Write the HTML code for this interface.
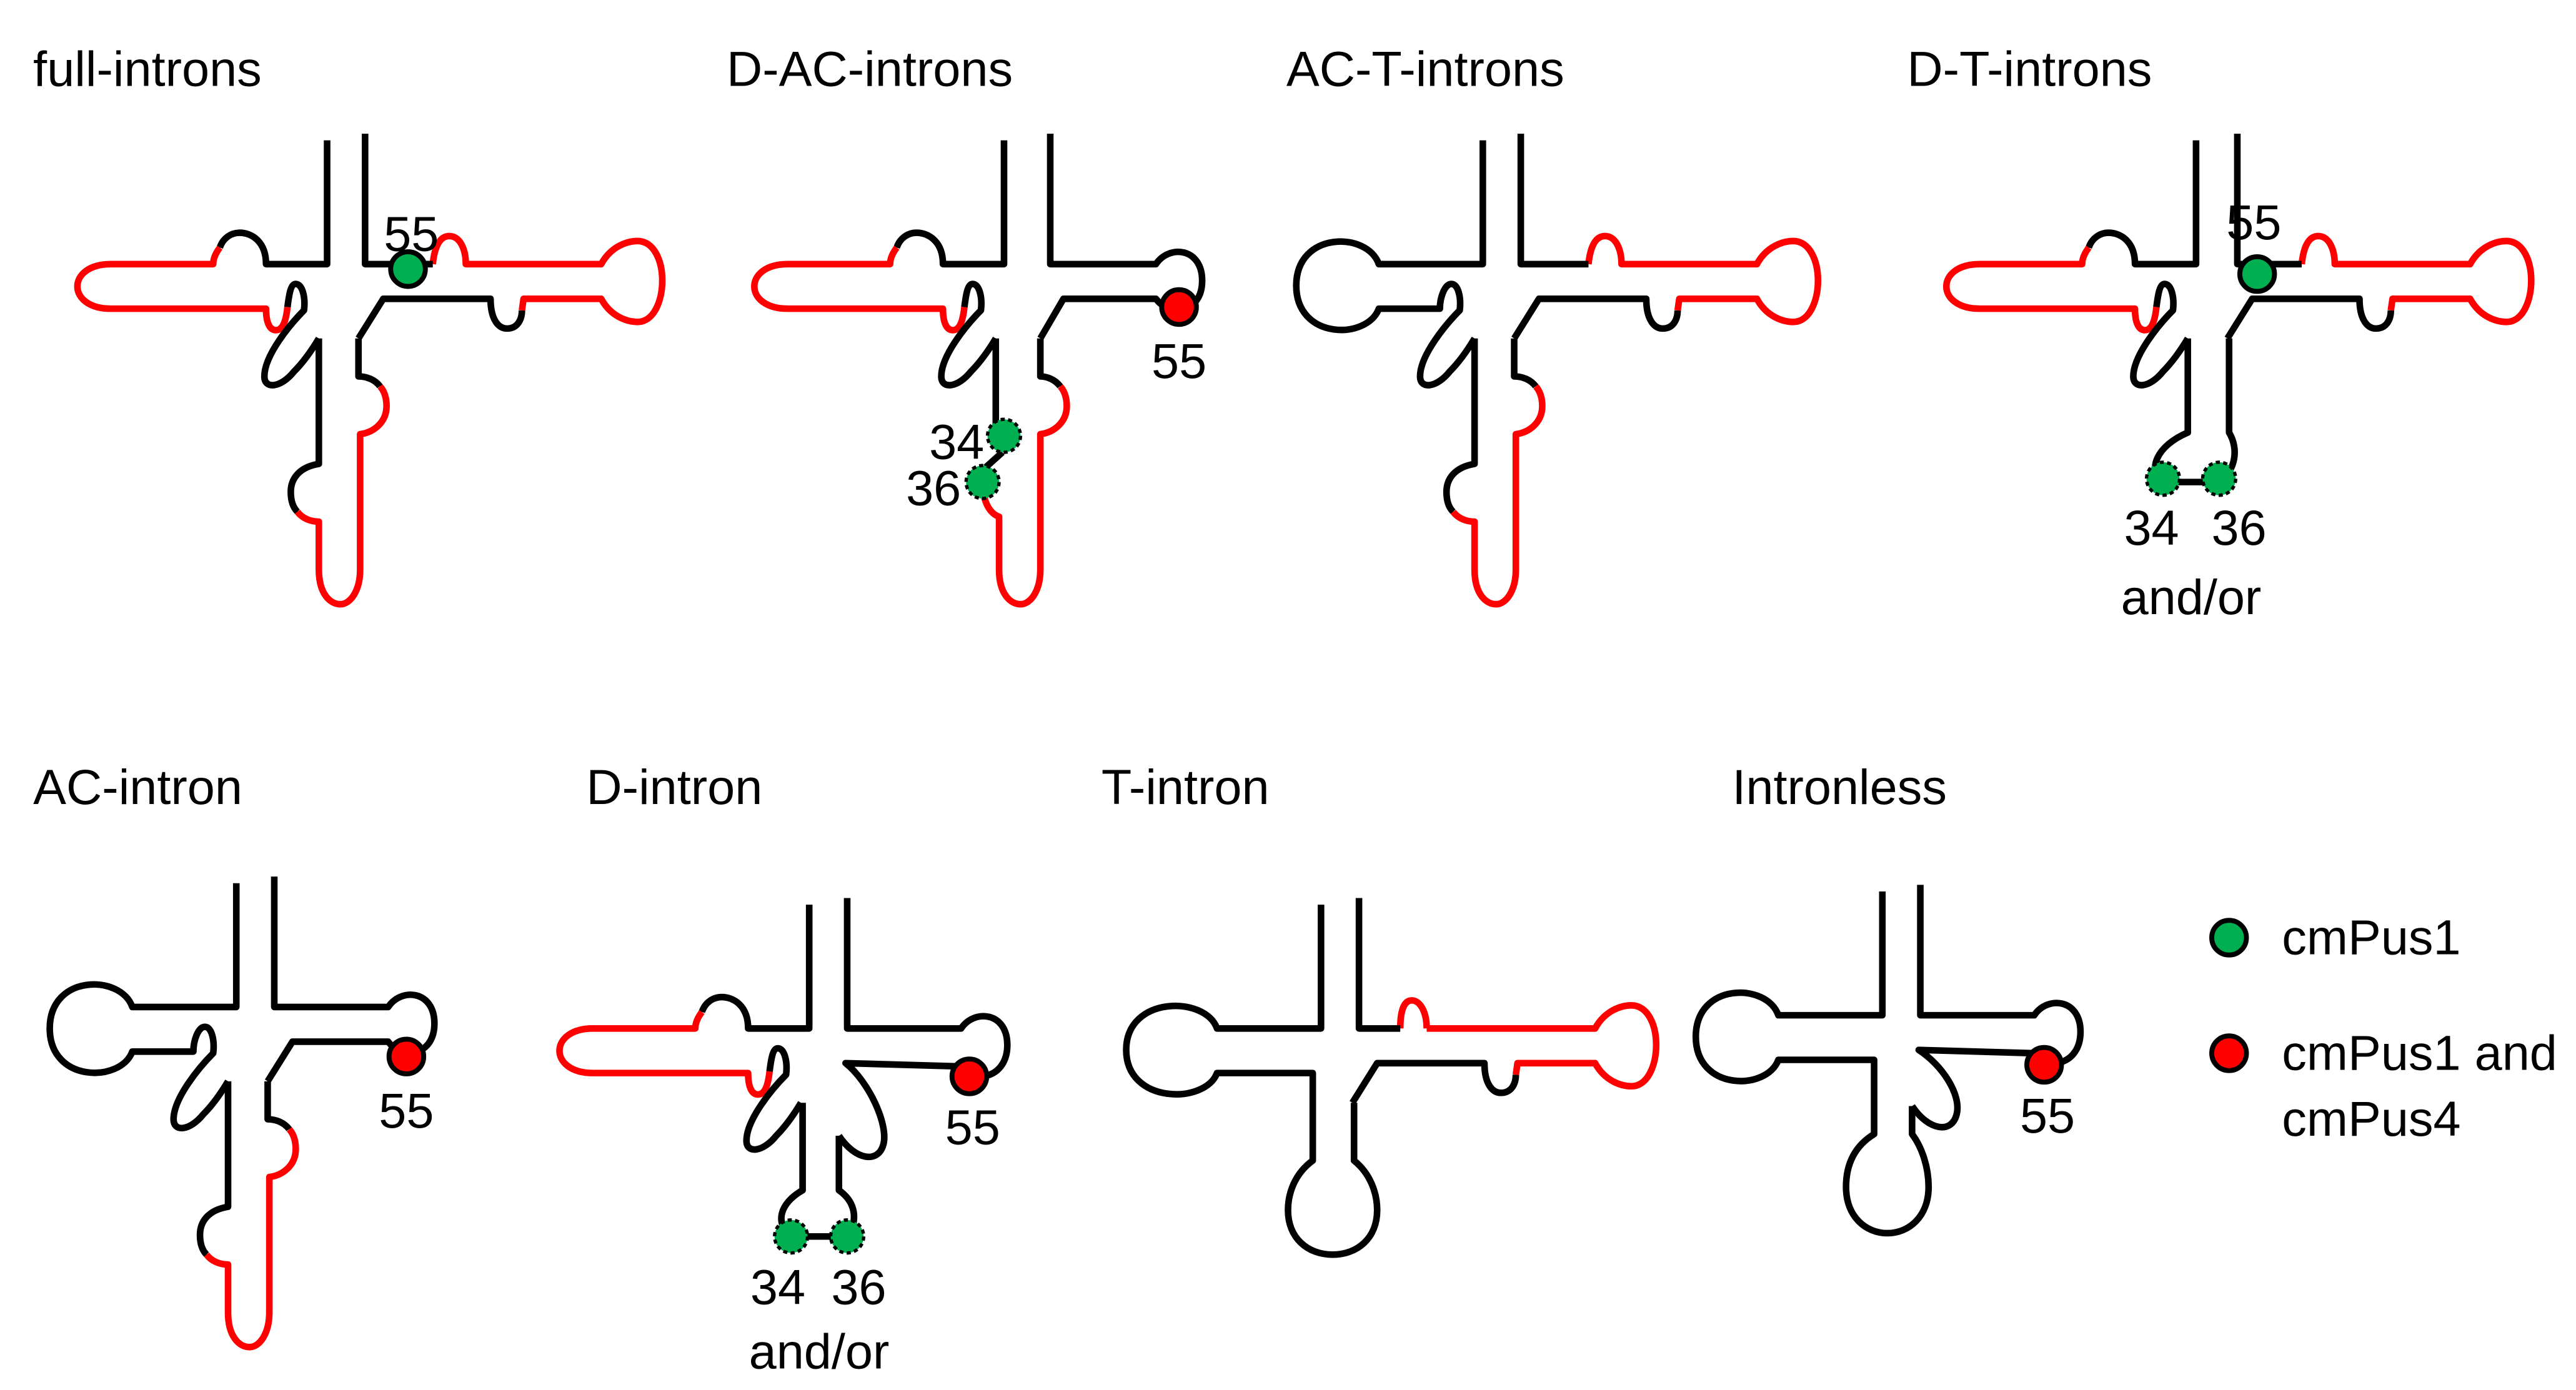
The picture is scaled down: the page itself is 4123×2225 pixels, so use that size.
<!DOCTYPE html>
<html><head><meta charset="utf-8"><style>
html,body{margin:0;padding:0;background:#fff;}
svg{display:block;}
.k{fill:none;stroke:#000;stroke-width:4;stroke-linejoin:round;}
.r{fill:none;stroke:#ff0000;stroke-width:4;stroke-linejoin:round;}
text{font-family:"Liberation Sans",Arial,sans-serif;font-size:30px;fill:#000;}
.g{fill:#00b050;stroke:#000;stroke-width:3;}
.rd{fill:#ff0000;stroke:#000;stroke-width:3;}
.gd{fill:#00b050;stroke:#000;stroke-width:2;stroke-dasharray:2.5,2;}
</style></head><body>
<svg width="4123" height="2225" viewBox="0 0 1560 842" xmlns="http://www.w3.org/2000/svg">
<rect width="1560" height="842" fill="#fff"/>
<text x="20" y="52">full-introns</text>
<text x="440" y="52">D-AC-introns</text>
<text x="779" y="52">AC-T-introns</text>
<text x="1155" y="52">D-T-introns</text>
<text x="20" y="487">AC-intron</text>
<text x="355" y="487">D-intron</text>
<text x="667" y="487">T-intron</text>
<text x="1049" y="487">Intronless</text>

<!-- P1 full-introns -->
<g>
<path class="k" d="M198,85 V160 H161 C161,146 152,141 145,141 C140,141 135,144 133,150"/>
<path class="r" d="M133,150 C130,154 129,157 129,160 H67 C40,160 40,187 67,187 H161 C161,195 163,200 167,200 C171,200 173,195 174,186"/>
<path class="k" d="M174,186 C175,178 176,172 179,172 C183,172 185,180 184,188 C176,196 160,215 160,228 C160,236 170,235 178,225 C185,218 190,210 193,205"/>
<path class="k" d="M193,205 V281 C181,283 176,290 176,298 C176,303 177,307 180,310"/>
<path class="r" d="M180,310 C183,314 188,316 193,316 V345 C193,360 200,366 206,366 C212,366 218,358 218,345 V263 C226,262 234,256 234,246 C234,240 232,236 230,234"/>
<path class="k" d="M230,234 C227,230 222,228 217,228 V205"/>
<path class="k" d="M217,205 L232,181 H297 C297,194 302,199 307,199 C313,199 316,194 316,188"/>
<path class="r" d="M316,188 L317,181 H364 C370,192 380,195 386,195 C396,195 401,182 401,170 C401,158 396,146 386,146 C380,146 370,149 364,160 H282 C282,152 279,143 272,143 C266,143 263,150 262,160"/>
<path class="k" d="M262,160 H221 V81"/>
<circle class="g" cx="247" cy="163" r="10.5"/>
<text x="249" y="152" text-anchor="middle">55</text>
</g>

<!-- P2 D-AC -->
<g transform="translate(410,0)">
<path class="k" d="M198,85 V160 H161 C161,146 152,141 145,141 C140,141 135,144 133,150"/>
<path class="r" d="M133,150 C130,154 129,157 129,160 H67 C40,160 40,187 67,187 H161 C161,195 163,200 167,200 C171,200 173,195 174,186"/>
<path class="k" d="M174,186 C175,178 176,172 179,172 C183,172 185,180 184,188 C176,196 160,215 160,228 C160,236 170,235 178,225 C185,218 190,210 193,205"/>
<path class="k" d="M193,205 V258 M197,274 L187,283"/>
<path class="r" d="M186,301 C188,309 192,312 195,313 V345 C195,360 202,366 208,366 C214,366 220,358 220,345 V263 C228,262 236,256 236,246 C236,240 234,236 232,234"/>
<path class="k" d="M232,234 C229,230 224,228 220,228 V205"/>
<path class="k" d="M220,205 L234,181 H290 C298,192 318,190 318,170 C318,150 298,148 290,160 H226 V81"/>
<circle class="gd" cx="198" cy="264" r="10"/>
<circle class="gd" cx="185" cy="292" r="10"/>
<circle class="rd" cx="304" cy="186" r="10.5"/>
<text x="304" y="229" text-anchor="middle">55</text>
<text x="186" y="278" text-anchor="end">34</text>
<text x="172" y="306" text-anchor="end">36</text>
</g>

<!-- P3 AC-T -->
<g transform="translate(700,0)">
<path class="k" d="M198,85 V160 H135 C128,140 85,140 85,173 C85,206 128,206 135,187 H172 C172,180 175,172 179,172 C183,172 185,180 184,188 C176,196 160,215 160,228 C160,236 170,235 178,225 C185,218 190,210 193,205"/>
<path class="k" d="M193,205 V281 C181,283 176,290 176,298 C176,303 177,307 180,310"/>
<path class="r" d="M180,310 C183,314 188,316 193,316 V345 C193,360 200,366 206,366 C212,366 218,358 218,345 V263 C226,262 234,256 234,246 C234,240 232,236 230,234"/>
<path class="k" d="M230,234 C227,230 222,228 217,228 V205"/>
<path class="k" d="M217,205 L232,181 H297 C297,194 302,199 307,199 C313,199 316,194 316,188"/>
<path class="r" d="M316,188 L317,181 H364 C370,192 380,195 386,195 C396,195 401,182 401,170 C401,158 396,146 386,146 C380,146 370,149 364,160 H282 C282,152 279,143 272,143 C266,143 263,150 262,160"/>
<path class="k" d="M262,160 H221 V81"/>
</g>

<!-- P4 D-T -->
<g transform="translate(1132,0)">
<path class="k" d="M198,85 V160 H161 C161,146 152,141 145,141 C140,141 135,144 133,150"/>
<path class="r" d="M133,150 C130,154 129,157 129,160 H67 C40,160 40,187 67,187 H161 C161,195 163,200 167,200 C171,200 173,195 174,186"/>
<path class="k" d="M174,186 C175,178 176,172 179,172 C183,172 185,180 184,188 C176,196 160,215 160,228 C160,236 170,235 178,225 C185,218 190,210 193,205"/>
<path class="k" d="M193,205 V262 C174,270 168,285 178,292 L212,292 C222,285 224,272 218,262 V205"/>
<path class="k" d="M217,205 L232,181 H297 C297,194 302,199 307,199 C313,199 316,194 316,188"/>
<path class="r" d="M316,188 L317,181 H364 C370,192 380,195 386,195 C396,195 401,182 401,170 C401,158 396,146 386,146 C380,146 370,149 364,160 H282 C282,152 279,143 272,143 C266,143 263,150 262,160"/>
<path class="k" d="M262,160 H223 V81"/>
<circle class="g" cx="235" cy="166" r="10.5"/>
<text x="233" y="145" text-anchor="middle">55</text>
<circle class="gd" cx="178" cy="290" r="10"/>
<circle class="gd" cx="212" cy="290" r="10"/>
<text x="171" y="330" text-anchor="middle">34</text>
<text x="224" y="330" text-anchor="middle">36</text>
<text x="195" y="372" text-anchor="middle">and/or</text>
</g>

<!-- P5 AC-intron -->
<g transform="translate(-55,450)">
<path class="k" d="M198,85 V160 H135 C128,140 85,140 85,173 C85,206 128,206 135,187 H172 C172,180 175,172 179,172 C183,172 185,180 184,188 C176,196 160,215 160,228 C160,236 170,235 178,225 C185,218 190,210 193,205"/>
<path class="k" d="M193,205 V281 C181,283 176,290 176,298 C176,303 177,307 180,310"/>
<path class="r" d="M180,310 C183,314 188,316 193,316 V345 C193,360 200,366 206,366 C212,366 218,358 218,345 V263 C226,262 234,256 234,246 C234,240 232,236 230,234"/>
<path class="k" d="M230,234 C227,230 222,228 217,228 V205"/>
<path class="k" d="M217,205 L232,181 H290 C298,192 318,190 318,170 C318,150 298,148 290,160 H221 V81"/>
<circle class="rd" cx="301" cy="190" r="10.5"/>
<text x="301" y="233" text-anchor="middle">55</text>
</g>

<!-- P6 D-intron -->
<g transform="translate(292,463)">
<path class="k" d="M198,85 V160 H161 C161,146 152,141 145,141 C140,141 135,144 133,150"/>
<path class="r" d="M133,150 C130,154 129,157 129,160 H67 C40,160 40,187 67,187 H161 C161,195 163,200 167,200 C171,200 173,195 174,186"/>
<path class="k" d="M174,186 C175,178 176,172 179,172 C183,172 185,180 184,188 C176,196 160,215 160,228 C160,236 170,235 178,225 C185,218 190,210 193,205"/>
<path class="k" d="M194,205 V258 C180,266 177,278 187,286 L221,286 C228,276 226,265 216,258 V225"/>
<path class="k" d="M216,225 C226,240 240,242 243,230 C246,218 234,192 220,181 L290,183 C298,194 318,190 318,170 C318,150 298,148 290,160 H221 V81"/>
<circle class="gd" cx="187" cy="286" r="10"/>
<circle class="gd" cx="221" cy="286" r="10"/>
<circle class="rd" cx="295" cy="189" r="10.5"/>
<text x="297" y="230" text-anchor="middle">55</text>
<text x="179" y="327" text-anchor="middle">34</text>
<text x="228" y="327" text-anchor="middle">36</text>
<text x="204" y="366" text-anchor="middle">and/or</text>
</g>

<!-- P7 T-intron -->
<g transform="translate(602,463)">
<path class="k" d="M198,85 V160 H135 C128,140 80,140 80,173 C80,206 128,206 135,187 H193 V240 C182,248 178,260 178,270 C178,287 190,297 205,297 C220,297 232,287 232,270 C232,260 228,248 218,240 V205"/>
<path class="k" d="M217,205 L232,181 H297 C297,194 302,199 307,199 C313,199 316,194 316,188"/>
<path class="r" d="M316,188 L317,181 H364 C370,192 380,195 386,195 C396,195 401,182 401,170 C401,158 396,146 386,146 C380,146 370,149 364,160 H262"/>
<path class="r" d="M262,160 C262,150 258,143 253,143 C248,143 246,150 246,160"/>
<path class="k" d="M246,160 H221 V81"/>
</g>

<!-- P8 Intronless -->
<g transform="translate(942,455)">
<path class="k" d="M198,85 V160 H135 C128,140 85,140 85,173 C85,206 128,206 135,187 H193 V232 C180,240 176,252 176,264 C176,282 188,292 201,292 C214,292 226,282 226,264 C226,252 222,240 216,232 V215"/>
<path class="k" d="M216,215 C226,230 240,232 243,220 C246,208 234,190 220,181 L290,183 C298,194 318,190 318,170 C318,150 298,148 290,160 H221 V81"/>
<circle class="rd" cx="296" cy="190" r="10.5"/>
<text x="298" y="231" text-anchor="middle">55</text>
</g>

<!-- Legend -->
<circle class="g" cx="1350" cy="568" r="10.5"/>
<text x="1382" y="578">cmPus1</text>
<circle class="rd" cx="1350" cy="638" r="10.5"/>
<text x="1382" y="648">cmPus1 and</text>
<text x="1382" y="688">cmPus4</text>
</svg>
</body></html>
